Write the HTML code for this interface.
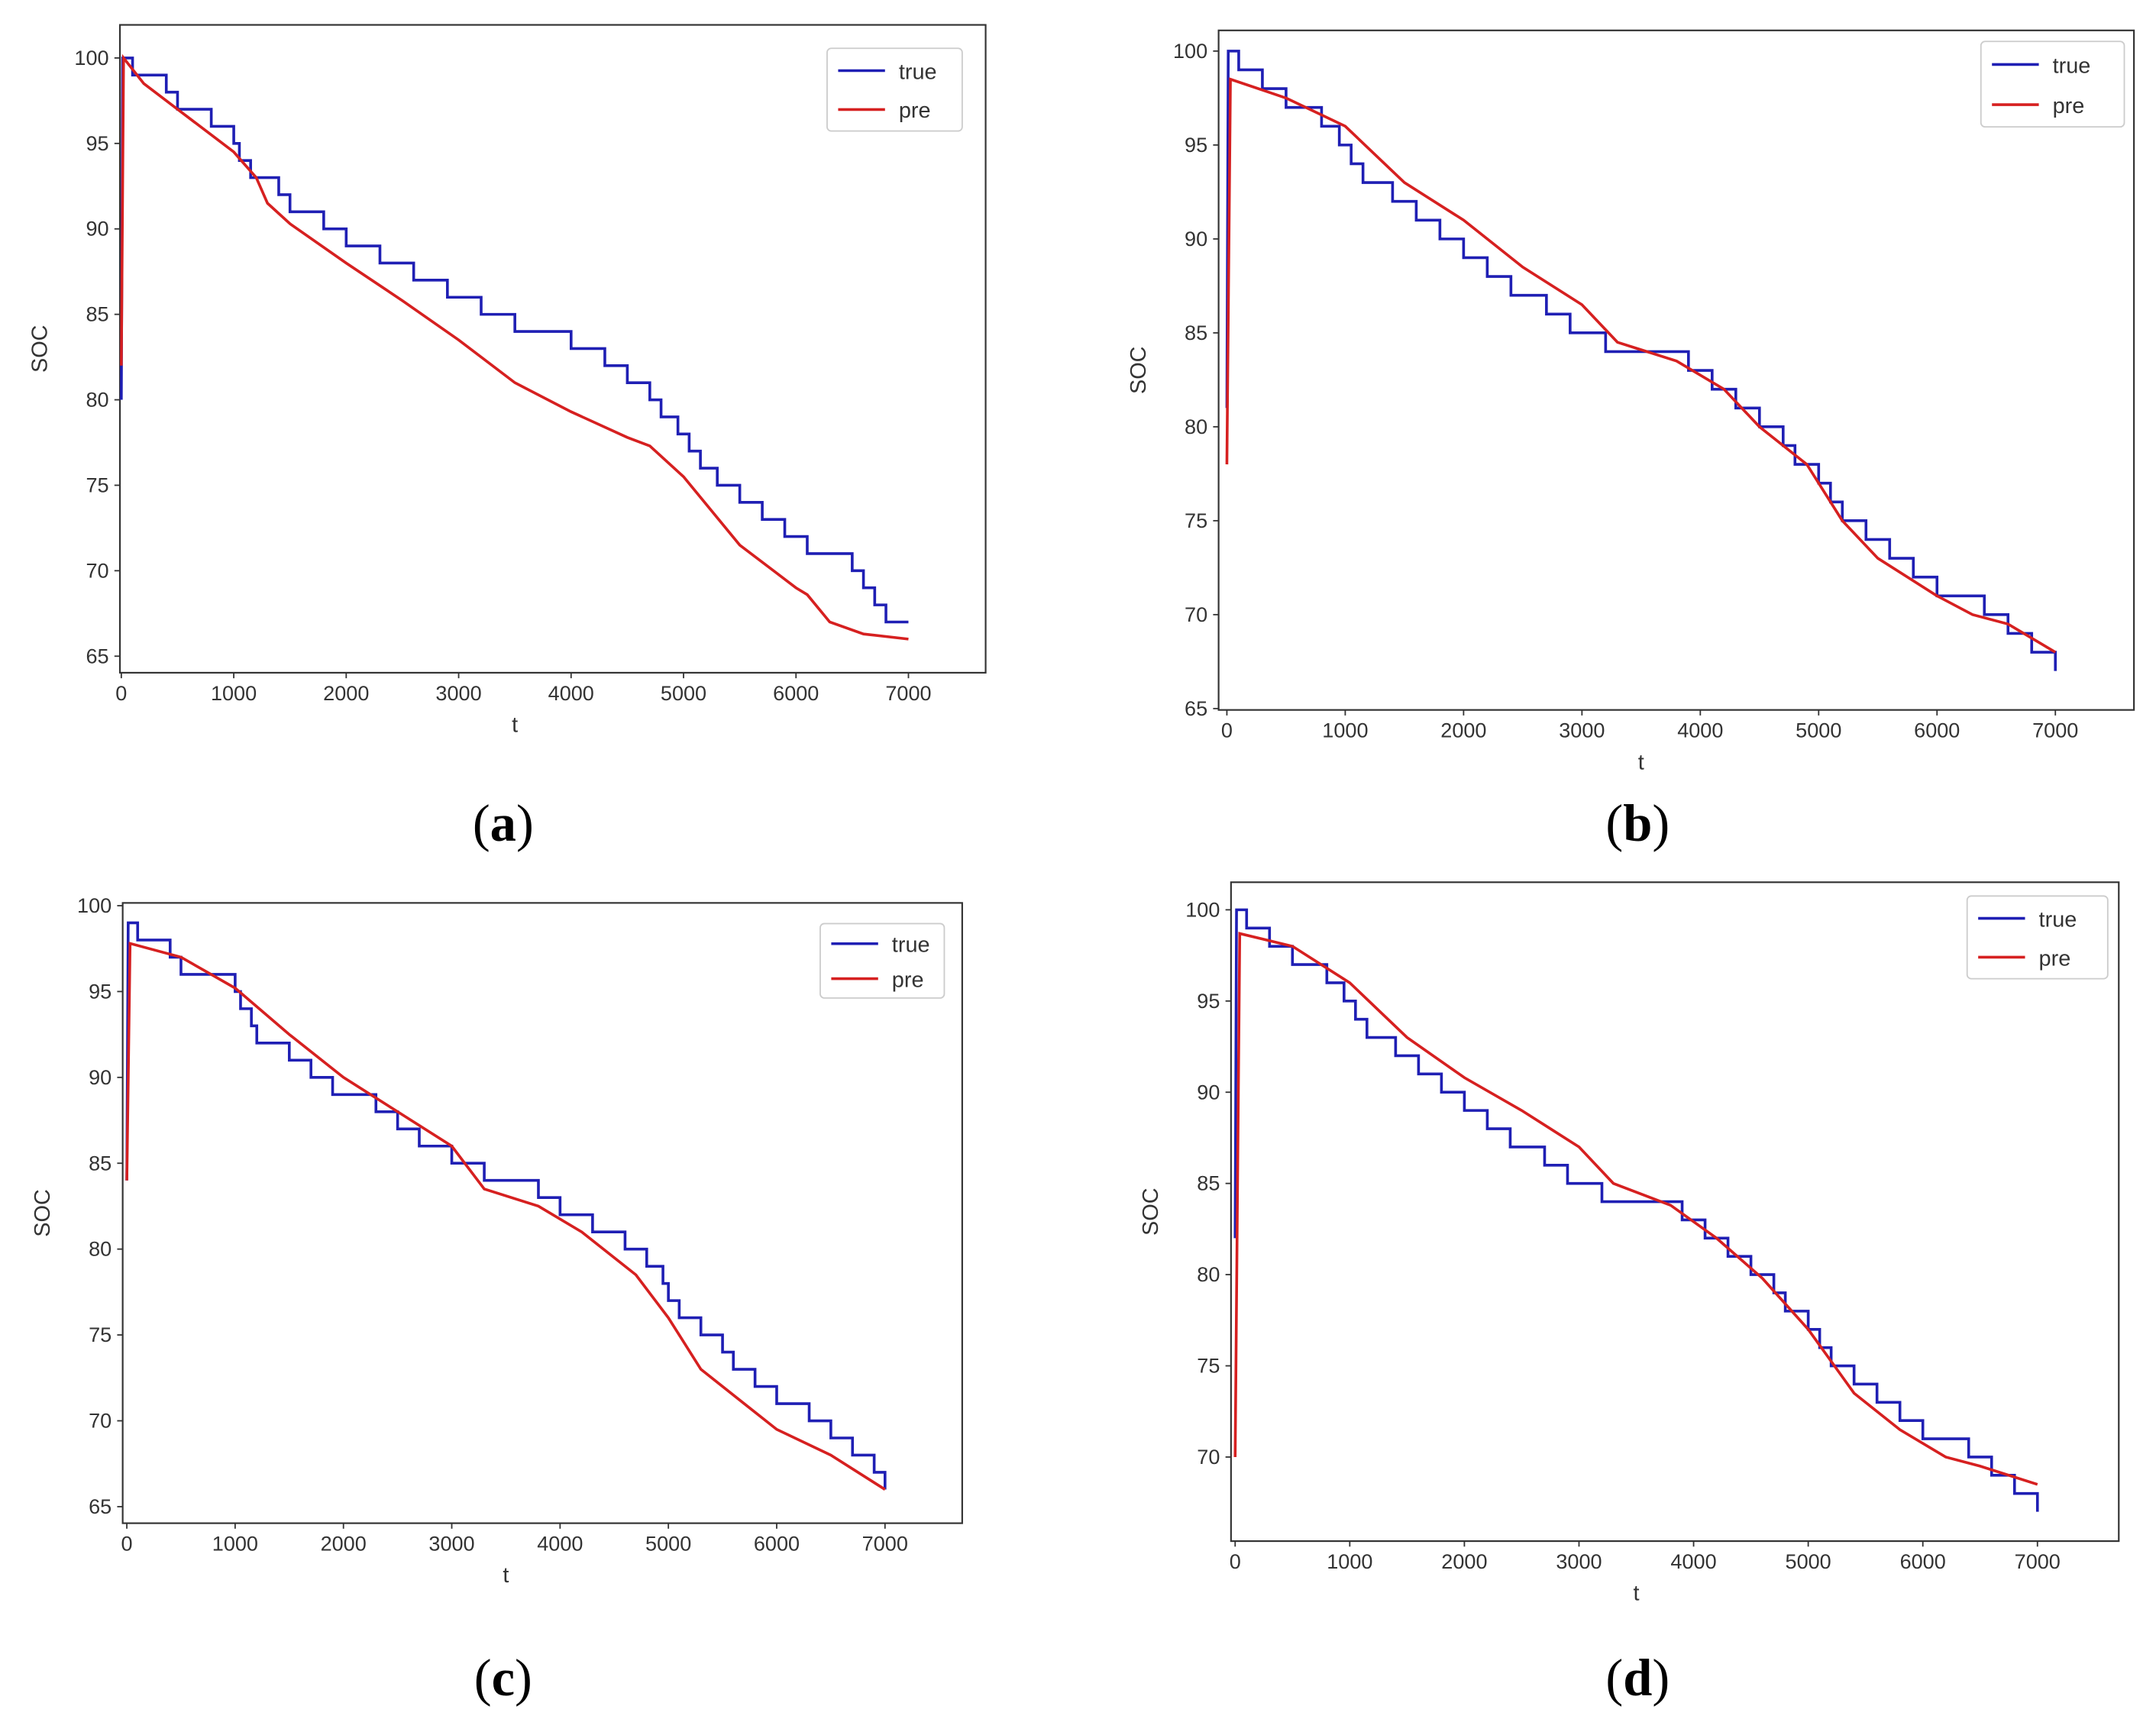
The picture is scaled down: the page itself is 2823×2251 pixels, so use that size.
<!DOCTYPE html>
<html><head><meta charset="utf-8"><style>
html,body{margin:0;padding:0;background:#fff}
svg{display:block}
</style></head><body>
<svg id="fig" width="2823" height="2251" viewBox="0 0 1564 1247" xmlns="http://www.w3.org/2000/svg"></svg>
<script>
// ---- data ----
const xTicks = [0,1000,2000,3000,4000,5000,6000,7000];
const aTrueT = [0,100,400,500,800,1000,1050,1150,1400,1500,1800,2000,2300,2600,2900,3200,3500,4000,4300,4500,4700,4800,4950,5050,5150,5300,5500,5700,5900,6100,6500,6600,6700,6800,7000];
const aTrueV = [100,99,98,97,96,95,94,93,92,91,90,89,88,87,86,85,84,83,82,81,80,79,78,77,76,75,74,73,72,71,70,69,68,67,67];
const aPreT = [0,20,200,500,800,1000,1200,1300,1500,2000,2500,3000,3500,4000,4500,4700,5000,5500,6000,6100,6300,6600,7000];
const aPreV = [82,100,98.5,97,95.5,94.5,93,91.5,90.3,88,85.8,83.5,81,79.3,77.8,77.3,75.5,71.5,69,68.6,67,66.3,66];
const bTrueT = [0,100,300,500,800,950,1050,1150,1400,1600,1800,2000,2200,2400,2700,2900,3200,3400,3900,4100,4300,4500,4700,4800,5000,5100,5200,5400,5600,5800,6000,6400,6600,6800,7000];
const bTrueV = [100,99,98,97,96,95,94,93,92,91,90,89,88,87,86,85,84,84,83,82,81,80,79,78,77,76,75,74,73,72,71,70,69,68,67];
const bPreT = [0,30,500,1000,1500,2000,2500,3000,3300,3800,4200,4500,4900,5200,5500,6000,6300,6600,7000];
const bPreV = [78,98.5,97.5,96,93,91,88.5,86.5,84.5,83.5,82,80,78,75,73,71,70,69.5,68];
const cTrueT = [0,100,400,500,1000,1050,1150,1200,1500,1700,1900,2000,2300,2500,2700,3000,3300,3800,4000,4300,4600,4800,4950,5000,5100,5300,5500,5600,5800,6000,6300,6500,6700,6900,7000];
const cTrueV = [99,98,97,96,95,94,93,92,91,90,89,89,88,87,86,85,84,83,82,81,80,79,78,77,76,75,74,73,72,71,70,69,68,67,66];
const cPreT = [0,30,500,1000,1500,2000,2500,3000,3300,3800,4200,4700,5000,5300,5700,6000,6500,7000];
const cPreV = [84,97.8,97,95.2,92.5,90,88,86,83.5,82.5,81,78.5,76,73,71,69.5,68,66];
const dPreT = [0,40,500,1000,1500,2000,2500,3000,3300,3800,4200,4600,5000,5400,5800,6200,6500,7000];
const dPreV = [70,98.7,98,96,93,90.8,89,87,85,83.8,82,79.8,77,73.5,71.5,70,69.5,68.5];

const panels = [
 {id:'a', box:[87,18,715,488], x0:88, x7:659, yA:[100,42], yB:[65,476], yTicks:[65,70,75,80,85,90,95,100], trueT:aTrueT, trueV:aTrueV, preT:aPreT, preV:aPreV, ymin:64, leg:[600,35,98,60], cap:[365,597]},
 {id:'b', box:[884,22,1548,515], x0:890, x7:1491, yA:[100,37], yB:[65,514], yTicks:[65,70,75,80,85,90,95,100], trueT:bTrueT, trueV:bTrueV, preT:bPreT, preV:bPreV, ymin:65, leg:[1437,30,104,62], cap:[1188,597]},
 {id:'c', box:[89,655,698,1105], x0:92, x7:642, yA:[100,657], yB:[65,1093], yTicks:[65,70,75,80,85,90,95,100], trueT:cTrueT, trueV:cTrueV, preT:cPreT, preV:cPreV, ymin:64, leg:[595,670,90,54], cap:[365,1217]},
 {id:'d', box:[893,640,1537,1118], x0:896, x7:1478, yA:[100,660], yB:[70,1057], yTicks:[70,75,80,85,90,95,100], trueT:bTrueT, trueV:bTrueV, preT:dPreT, preV:dPreV, ymin:66, leg:[1427,650,102,60], cap:[1188,1217]}
];

const NS='http://www.w3.org/2000/svg';
const svg=document.getElementById('fig');
function mk(tag,attrs,parent){const e=document.createElementNS(NS,tag);for(const k in attrs)e.setAttribute(k,attrs[k]);(parent||svg).appendChild(e);return e;}

panels.forEach(p=>{
  const g=mk('g',{});
  
  
  const sx=t=>p.x0+(p.x7-p.x0)*t/7000;
  const sy=v=>p.yA[1]+(p.yA[0]-v)*(p.yB[1]-p.yA[1])/(p.yA[0]-p.yB[0]);
  const [L,T,R,B]=p.box;
  const frame=mk('rect',{x:L,y:T,width:R-L,height:B-T,fill:'none',stroke:'#333','stroke-width':1.2},g);
  
  
  xTicks.forEach(t=>{
    const x=sx(t);
    mk('line',{x1:x,y1:B,x2:x,y2:B+4,stroke:'#333'},g);
    const tx=mk('text',{x:x,y:B+20,'font-size':15,'text-anchor':'middle',fill:'#333','font-family':'Liberation Sans, sans-serif'},g);
    tx.textContent=t;
    
    
  });
  p.yTicks.forEach(v=>{
    const y=sy(v);
    mk('line',{x1:L-4,y1:y,x2:L,y2:y,stroke:'#333'},g);
    const tx=mk('text',{x:L-8,y:y+5,'font-size':15,'text-anchor':'end',fill:'#333','font-family':'Liberation Sans, sans-serif'},g);
    tx.textContent=v;
    
    
  });
  const xl=mk('text',{x:(L+R)/2-(p.id==='a'?0:0)+( (p.x0+p.x7)/2-(L+R)/2 ),y:B+43,'font-size':16,'text-anchor':'middle',fill:'#333','font-family':'Liberation Sans, sans-serif'},g);
  xl.textContent='t';
  
  
  const yx=L-53, yy=(T+B)/2;
  const yl=mk('text',{x:yx,y:yy,'font-size':16,'text-anchor':'middle',fill:'#333','font-family':'Liberation Sans, sans-serif',transform:`rotate(-90 ${yx} ${yy})`},g);
  yl.textContent='SOC';
  
  
  // true step line
  let d=`M${sx(p.trueT[0])},${sy(p.ymin+ (p.id==='c'?20:16))}`;
  d+=` L${sx(p.trueT[0])+1},${sy(p.trueV[0])}`;
  for(let i=1;i<p.trueT.length;i++){d+=` H${sx(p.trueT[i])} V${sy(p.trueV[i])}`;}
  const tl=mk('path',{d:d,fill:'none',stroke:'#1f1fb4','stroke-width':2},g);
  
  
  let d2='';
  p.preT.forEach((t,i)=>{d2+=(i?' L':'M')+sx(t)+','+sy(p.preV[i]);});
  const pl=mk('path',{d:d2,fill:'none',stroke:'#d62020','stroke-width':2},g);
  
  
  // legend
  const [lx,ly,lw,lh]=p.leg;
  const lg=mk('g',{},g);
  
  
  mk('rect',{x:lx,y:ly,width:lw,height:lh,rx:3,fill:'#fff',stroke:'#ccc'},lg);
  [['true','#1f1fb4'],['pre','#d62020']].forEach((e,i)=>{
    const yy2=ly+lh*(0.27+0.47*i);
    mk('line',{x1:lx+8,y1:yy2,x2:lx+42,y2:yy2,stroke:e[1],'stroke-width':2},lg);
    const t=mk('text',{x:lx+52,y:yy2+6,'font-size':16,fill:'#333','font-family':'Liberation Sans, sans-serif'},lg);
    t.textContent=e[0];
    
    
  });
  const cap=mk('text',{x:p.cap[0],y:p.cap[1]+13,'font-size':38,'text-anchor':'middle',fill:'#000','font-family':'Liberation Serif, serif'},svg);
  cap.innerHTML='(<tspan font-weight="bold">'+p.id+'</tspan>)';
  
  
});
</script>
</body></html>
